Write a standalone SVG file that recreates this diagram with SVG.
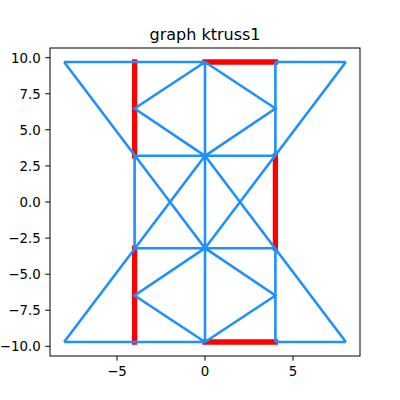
<svg xmlns="http://www.w3.org/2000/svg" width="400" height="400" viewBox="0 0 400 400">
<style>
.red{fill:none;stroke:#ff0000;stroke-width:5.3;stroke-linecap:square}
.blue{fill:none;stroke:#1e90ff;stroke-width:2.6}
.tick{stroke:#000;stroke-width:1}
.lbl{font-family:"DejaVu Sans",sans-serif;font-size:13.33px;fill:#000}
.title{font-family:"DejaVu Sans",sans-serif;font-size:16px;fill:#000}
</style>
<rect width="400" height="400" fill="#fff"/>
<g id="connectors">
<g id="highlighted">
<path class="red" d="M134.6,62 V155.8 M205,62 H275.4 M275.4,155.8 V248.2 M134.6,248.2 V342 M205,342 H275.4"/>
</g>
<g id="edges">
<path class="blue" d="M64.1,62 H205 M275.4,62 H345.9 M64.1,342 H205 M275.4,342 H345.9 M205,62 V342 M134.6,155.8 V248.2 M275.4,62 V155.8 M275.4,248.2 V342 M134.6,155.8 H275.4 M134.6,248.2 H275.4 M64.1,62 L205,248.2 M345.9,62 L205,248.2 M64.1,342 L205,155.8 M345.9,342 L205,155.8 M205,62 L134.6,108.5 L205,155.8 M205,62 L275.4,108.5 L205,155.8 M205,342 L134.6,295.5 L205,248.2 M205,342 L275.4,295.5 L205,248.2"/>
</g>
</g>
<g id="axes">
<rect x="50" y="48" width="310" height="308" fill="none" stroke="#000" stroke-width="1"/>
<g class="tick">
<path d="M117,356 v4.7 M205,356 v4.7 M293,356 v4.7"/>
<path d="M50,57.7 h-4.7 M50,93.75 h-4.7 M50,129.8 h-4.7 M50,165.9 h-4.7 M50,202 h-4.7 M50,238.1 h-4.7 M50,274.2 h-4.7 M50,310.2 h-4.7 M50,346.3 h-4.7"/>
</g>
<g class="lbl" text-anchor="middle">
<text x="117" y="376">−5</text>
<text x="205" y="376">0</text>
<text x="293" y="376">5</text>
</g>
<g class="lbl" text-anchor="end">
<text x="40.7" y="62.5">10.0</text>
<text x="40.7" y="98.6">7.5</text>
<text x="40.7" y="134.6">5.0</text>
<text x="40.7" y="170.7">2.5</text>
<text x="40.7" y="206.8">0.0</text>
<text x="40.7" y="242.9">−2.5</text>
<text x="40.7" y="279">−5.0</text>
<text x="40.7" y="315">−7.5</text>
<text x="40.7" y="351.1">−10.0</text>
</g>
<text class="title" x="205" y="40" text-anchor="middle">graph ktruss1</text>
</g>
</svg>
